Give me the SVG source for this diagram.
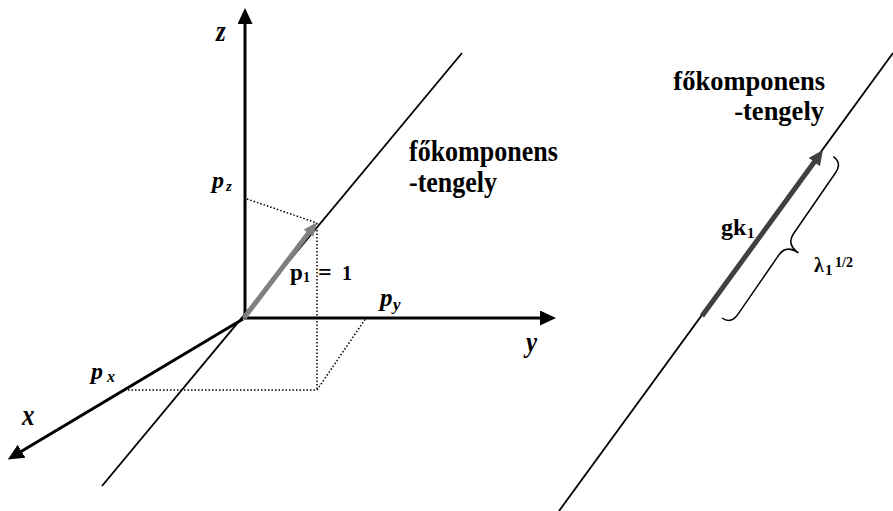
<svg xmlns="http://www.w3.org/2000/svg" width="893" height="511" viewBox="0 0 893 511">
<defs>
<style>
.axis{stroke:#000;stroke-width:3;fill:none}
.pc{stroke:#000;stroke-width:1.8;fill:none}
.dot{stroke:#000;stroke-width:1.5;stroke-dasharray:1.5 2;fill:none}
.lbl{font-family:"Liberation Serif","Times New Roman",serif;font-weight:bold;fill:#000}
.it{font-style:italic}
</style>
<marker id="ah" markerUnits="userSpaceOnUse" markerWidth="17" markerHeight="16" refX="1" refY="7.5" orient="auto" viewBox="0 0 17 16">
<path d="M0,0 L16,7.5 L0,15 z" fill="#000"/>
</marker>
<marker id="ahg" markerUnits="userSpaceOnUse" markerWidth="15" markerHeight="13" refX="1" refY="6" orient="auto" viewBox="0 0 15 13">
<path d="M0,0 L14,6 L0,12 z" fill="#808080"/>
</marker>
<marker id="ahd" markerUnits="userSpaceOnUse" markerWidth="16" markerHeight="15" refX="1" refY="7" orient="auto" viewBox="0 0 16 15">
<path d="M0,0 L15,7 L0,14 z" fill="#404040"/>
</marker>
</defs>
<rect width="893" height="511" fill="#fff"/>

<g id="connectors">
<line class="pc" x1="102" y1="486" x2="462" y2="53"/>
<line class="pc" x1="559" y1="511" x2="893" y2="53"/>
<line class="dot" x1="247" y1="199" x2="317" y2="223"/>
<line class="dot" x1="317" y1="223" x2="317" y2="390"/>
<line class="dot" x1="128" y1="390" x2="317" y2="390"/>
<line class="dot" x1="317" y1="390" x2="366" y2="318"/>
<line class="axis" x1="245" y1="319" x2="245" y2="23" marker-end="url(#ah)"/>
<line class="axis" x1="244" y1="318" x2="541" y2="318" marker-end="url(#ah)"/>
<line class="axis" x1="243" y1="319" x2="20.7" y2="451.8" marker-end="url(#ah)"/>
<line x1="244" y1="318" x2="309" y2="232.5" stroke="#808080" stroke-width="5" marker-end="url(#ahg)"/>
<line x1="702" y1="316" x2="814.8" y2="161.3" stroke="#404040" stroke-width="5" marker-end="url(#ahd)"/>
<path transform="translate(722,318) rotate(-55.4)" d="M0,0 C0,8 4,11 12,11 L84,11 C92,11 97,16 97,26 C97,16 102,11 110,11 L184,11 C192,11 196,8 196,0" stroke="#000" stroke-width="1.5" fill="none"/>
</g>

<g id="label-z"><text class="lbl it" font-size="25" transform="translate(216,41) scale(1,1.2)">z</text></g>
<g id="label-x"><text class="lbl it" font-size="25" transform="translate(22,425) scale(1,1.2)">x</text></g>
<g id="label-y"><text class="lbl it" font-size="25" transform="translate(526,352) scale(1,1.2)">y</text></g>
<g id="label-pz"><text class="lbl it" font-size="24" x="212" y="188">p</text><text class="lbl it" font-size="15" x="226" y="191">z</text></g>
<g id="label-px"><text class="lbl it" font-size="24" x="91" y="379">p</text><text class="lbl it" font-size="16" x="107" y="382">x</text></g>
<g id="label-py"><text class="lbl it" font-size="25" x="380" y="306">p</text><text class="lbl it" font-size="17" x="393" y="310">y</text></g>
<g id="label-p1"><text class="lbl" font-size="23" x="290" y="280">p</text><text class="lbl" font-size="14" x="303" y="282">1</text><text class="lbl" font-size="24" x="318" y="280">=</text><text class="lbl" font-size="20" x="342" y="280">1</text></g>
<g id="label-axis-left"><text class="lbl" font-size="26" transform="translate(409,161) scale(1,1.12)">főkomponens</text><text class="lbl" font-size="26" transform="translate(409,192) scale(1,1.12)">-tengely</text></g>
<g id="label-axis-right"><text class="lbl" font-size="26.5" text-anchor="end" x="825" y="90">főkomponens</text><text class="lbl" font-size="26.5" text-anchor="end" x="824" y="120">-tengely</text></g>
<g id="label-gk1"><text class="lbl" font-size="24" x="721" y="235">gk</text><text class="lbl" font-size="15" x="747" y="238">1</text></g>
<g id="label-lambda"><text class="lbl" font-size="20" x="814" y="272">λ</text><text class="lbl" font-size="15" x="825" y="275">1</text><text class="lbl" font-size="14" x="835" y="267">1/2</text></g>
</svg>
